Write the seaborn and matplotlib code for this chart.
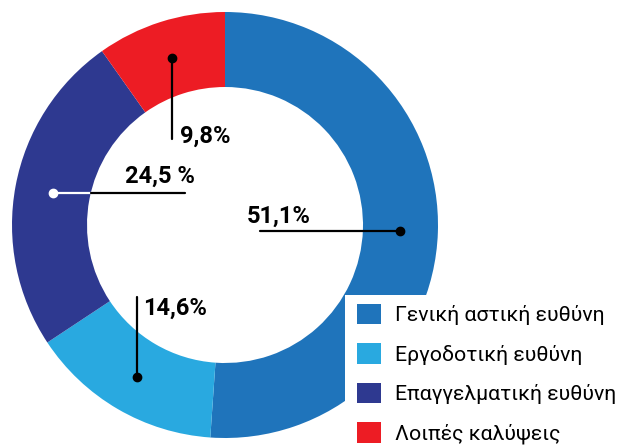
import numpy as np
import seaborn as sns
import matplotlib.pyplot as plt
from matplotlib.patches import Patch, Rectangle

# data
categories = ["Γενική αστική ευθύνη", "Εργοδοτική ευθύνη",
              "Επαγγελματική ευθύνη", "Λοιπές καλύψεις"]
shares = [51.1, 14.6, 24.5, 9.8]
pct_labels = ["51,1%", "14,6%", "24,5 %", "9,8%"]
colors = ["#1f74bb", "#29a9e0", "#2e3990", "#ed1c24"]

sns.set_theme(style="white")
plt.rcParams['font.family'] = ['Roboto', 'DejaVu Sans']

W, H = 619, 447
fig = plt.figure(figsize=(W / 100, H / 100), dpi=100)
ax = fig.add_axes([0, 0, 1, 1])

cx, cy = 225, H - 225
r_out, r_in = 213, 138
wedges, _ = ax.pie(shares, colors=colors, startangle=90, counterclock=False,
                   radius=r_out, center=(cx, cy),
                   wedgeprops=dict(width=r_out - r_in, linewidth=0))
ax.set_xlim(0, W)
ax.set_ylim(0, H)
ax.set_aspect('equal')
ax.axis('off')

# leader line layout (pixel offsets from the dot, y pointing down)
# (line end dx, dy), (text dx, dy), line colour inside the ring, dot colour
layout = [
    ((-140, 0), (-154, -8), 'black', 'black'),
    ((0, -80), (6, -62), 'black', 'black'),
    ((132, 0), (72, -10), 'white', 'white'),
    ((0, 81), (8, 85), 'black', 'black'),
]

r_mid = (r_out + r_in) / 2
for w, lab, (lend, toff, ring_col, dot_col) in zip(wedges, pct_labels, layout):
    ang = np.deg2rad((w.theta1 + w.theta2) / 2)
    x0, y0 = cx + r_mid * np.cos(ang), cy + r_mid * np.sin(ang)
    x1, y1 = x0 + lend[0], y0 - lend[1]
    if ring_col == 'white':
        # split line at inner circle
        xs = cx - np.sqrt(max(r_in ** 2 - (y0 - cy) ** 2, 0))
        ax.plot([x0, xs], [y0, y0], color='white', lw=1.6, zorder=3)
        ax.plot([xs, x1], [y0, y1], color='black', lw=1.6, zorder=3)
    else:
        ax.plot([x0, x1], [y0, y1], color='black', lw=1.6, zorder=3)
    ax.plot(x0, y0, 'o', color=dot_col, ms=6, zorder=4)
    ax.text(x0 + toff[0], y0 - toff[1], lab, ha='left', va='baseline',
            fontsize=17, fontweight='bold', color='black', zorder=5)

# white box behind legend
ax.add_patch(Rectangle((345, 0), W - 345, H - 295, facecolor='white',
                       edgecolor='none', zorder=6))

handles = [Patch(facecolor=c, edgecolor='none') for c in colors]
leg = ax.legend(handles, categories, loc='upper left',
                bbox_to_anchor=(357, H - 304), bbox_transform=ax.transData,
                frameon=False, borderpad=0, borderaxespad=0,
                handlelength=1.15, handleheight=1.1, handletextpad=0.65,
                labelspacing=0.85, labelcolor='black',
                prop=dict(family=['Roboto', 'DejaVu Sans'], size=15.3))
leg.set_zorder(7)

fig.savefig('out.png', dpi=100)
